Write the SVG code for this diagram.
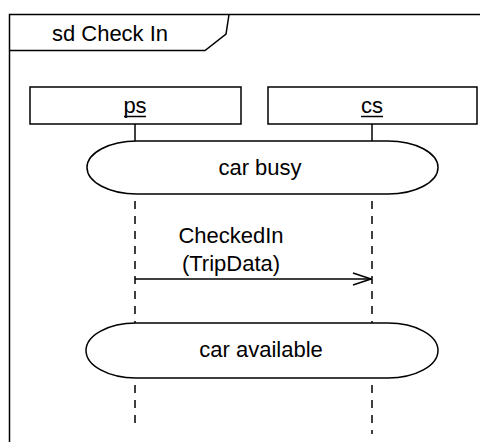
<svg xmlns="http://www.w3.org/2000/svg" width="480" height="442" viewBox="0 0 480 442">
<style>
text{font-family:"Liberation Sans",Arial,sans-serif;font-size:22px;fill:#000;text-anchor:middle}
.ln{fill:none;stroke:#000;stroke-width:1.5}
.box{fill:#fff;stroke:#000;stroke-width:1.5}
.life{stroke:#000;stroke-width:1.5;stroke-dasharray:8,7;fill:none}
</style>
<defs>
<marker id="open" markerWidth="20" markerHeight="14" refX="19" refY="7" orient="auto" markerUnits="userSpaceOnUse">
<path d="M1,1 L19,7 L1,13" fill="none" stroke="#000" stroke-width="1.5"/>
</marker>
</defs>
<g id="frame">
<path class="ln" d="M9.5,442 L9.5,14.5 L480,14.5"/>
<path class="ln" d="M9.5,50.5 L205,50.5 L226,34 L229,14.5"/>
<text x="110" y="41">sd Check In</text>
</g>
<g id="connectors">
<line class="ln" x1="135" y1="124" x2="135" y2="141"/>
<line class="ln" x1="372" y1="124" x2="372" y2="141"/>
<line class="life" x1="135" y1="201" x2="135" y2="323"/>
<line class="life" x1="372" y1="201" x2="372" y2="323"/>
<line class="life" x1="135" y1="385" x2="135" y2="428"/>
<line class="life" x1="372" y1="385" x2="372" y2="434"/>
<line class="ln" x1="135" y1="279" x2="371" y2="279" marker-end="url(#open)"/>
<text x="231" y="243">CheckedIn</text>
<text x="231" y="271">(TripData)</text>
</g>
<g id="ps">
<rect class="box" x="30" y="87" width="211" height="37"/>
<text x="135" y="113">ps</text>
<line class="ln" x1="124" y1="116.5" x2="146" y2="116.5"/>
</g>
<g id="cs">
<rect class="box" x="268" y="87" width="209" height="37"/>
<text x="372" y="113">cs</text>
<line class="ln" x1="361" y1="116.5" x2="383" y2="116.5"/>
</g>
<g id="carbusy">
<path class="box" d="M137,141 L388,141 A50,26.5 0 0 1 388,194 L137,194 A50,26.5 0 0 1 137,141 Z"/>
<text x="260" y="175">car busy</text>
</g>
<g id="caravailable">
<path class="box" d="M136,323 L388,323 A50,27.5 0 0 1 388,378 L136,378 A50,27.5 0 0 1 136,323 Z"/>
<text x="261" y="357">car available</text>
</g>
</svg>
